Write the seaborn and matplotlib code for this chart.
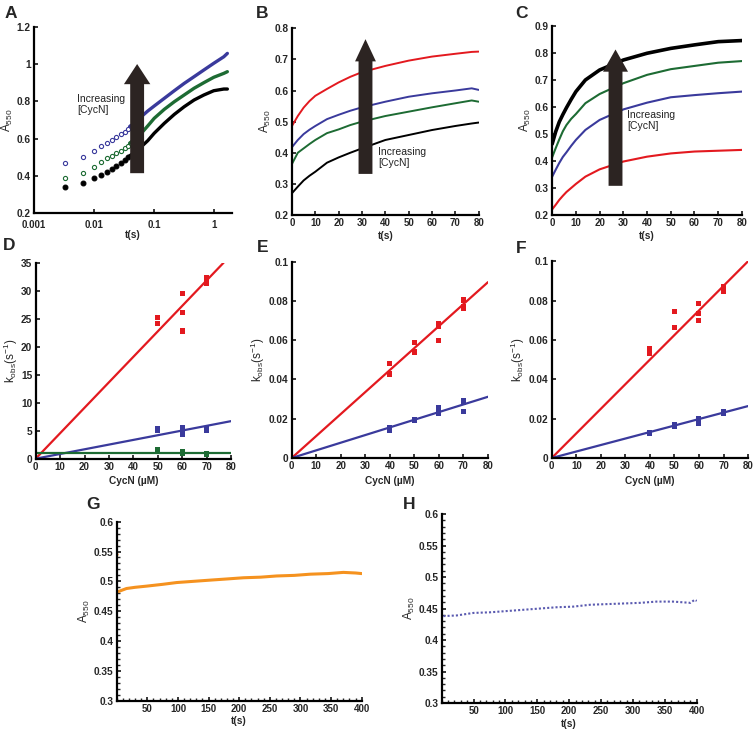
import numpy as np
import pandas as pd
import seaborn as sns
import matplotlib
matplotlib.use("Agg")
import matplotlib.pyplot as plt
from matplotlib.ticker import MultipleLocator

# ---------------- data ----------------
# panel A (log time axis): early sparse points, then dense curve
tA_dots = [0.0033, 0.0066, 0.010, 0.0132, 0.0166, 0.0198, 0.0234, 0.0276, 0.0321, 0.0365, 0.041]
A_black_dots = [0.343, 0.364, 0.389, 0.407, 0.423, 0.439, 0.455, 0.471, 0.486, 0.500]
A_green_dots = [0.388, 0.414, 0.450, 0.477, 0.495, 0.507, 0.521, 0.534, 0.548, 0.562, 0.579]
A_blue_dots = [0.471, 0.504, 0.534, 0.561, 0.579, 0.593, 0.609, 0.623, 0.638, 0.654, 0.668]
tA_line = [0.039, 0.047, 0.061, 0.078, 0.1, 0.147, 0.216, 0.315, 0.46, 0.67, 0.98, 1.44, 1.65]
A_black = [0.508, 0.525, 0.557, 0.589, 0.629, 0.682, 0.730, 0.771, 0.807, 0.834, 0.857, 0.866, 0.866]
A_green = [0.576, 0.596, 0.629, 0.668, 0.709, 0.757, 0.798, 0.834, 0.870, 0.900, 0.929, 0.950, 0.959]
A_blue = [0.665, 0.682, 0.718, 0.748, 0.775, 0.816, 0.857, 0.896, 0.932, 0.968, 1.004, 1.039, 1.057]

# panel B
tB = [0, 2.5, 5, 7.5, 10, 15, 20, 25, 30, 40, 50, 60, 70, 77, 80]
B_red = [0.486, 0.518, 0.545, 0.566, 0.583, 0.605, 0.626, 0.644, 0.659, 0.679, 0.696, 0.709, 0.718, 0.724, 0.725]
B_blue = [0.418, 0.441, 0.460, 0.474, 0.486, 0.508, 0.522, 0.535, 0.546, 0.564, 0.580, 0.591, 0.600, 0.607, 0.602]
B_green = [0.364, 0.400, 0.414, 0.428, 0.441, 0.463, 0.475, 0.489, 0.500, 0.518, 0.532, 0.546, 0.559, 0.568, 0.564]
B_black = [0.270, 0.291, 0.311, 0.326, 0.339, 0.368, 0.385, 0.400, 0.414, 0.441, 0.457, 0.473, 0.486, 0.494, 0.497]

# panel C
tC = [0, 1.5, 3, 4.5, 6, 8, 10, 14, 20, 30, 40, 50, 60, 70, 80]
C_black = [0.463, 0.509, 0.545, 0.572, 0.597, 0.628, 0.657, 0.700, 0.737, 0.774, 0.799, 0.817, 0.830, 0.842, 0.846]
C_green = [0.414, 0.448, 0.480, 0.510, 0.533, 0.556, 0.574, 0.614, 0.648, 0.688, 0.719, 0.740, 0.752, 0.764, 0.770]
C_blue = [0.342, 0.368, 0.393, 0.415, 0.432, 0.456, 0.478, 0.515, 0.552, 0.591, 0.616, 0.636, 0.644, 0.651, 0.657]
C_red = [0.221, 0.238, 0.256, 0.271, 0.285, 0.300, 0.315, 0.342, 0.369, 0.398, 0.416, 0.428, 0.435, 0.438, 0.441]

# panel D  (kobs vs CycN)
D_red_x = [50, 50, 60, 60, 60, 70, 70, 70]
D_red_y = [25.2, 24.2, 29.5, 26.1, 22.8, 32.4, 31.3, 31.8]
D_blue_x = [50, 50, 60, 60, 60, 70, 70]
D_blue_y = [5.3, 5.1, 5.5, 5.0, 4.3, 5.3, 5.0]
D_green_x = [50, 50, 60, 60, 70, 70]
D_green_y = [1.7, 1.3, 1.25, 0.85, 0.95, 0.8]
D_fit_x = {"red": [0, 77], "blue": [0, 80], "green": [0, 80]}
D_fit_y = {"red": [0, 35], "blue": [0, 6.7], "green": [1.1, 1.1]}

# panel E
E_red_x = [40, 40, 50, 50, 50, 60, 60, 60, 70, 70, 70]
E_red_y = [0.0482, 0.0428, 0.0589, 0.0545, 0.0538, 0.0683, 0.0672, 0.0598, 0.0805, 0.0770, 0.0762]
E_blue_x = [40, 40, 50, 50, 60, 60, 60, 70, 70, 70]
E_blue_y = [0.0153, 0.0138, 0.0197, 0.0190, 0.0258, 0.0239, 0.0228, 0.0294, 0.0282, 0.0236]
E_fit_x = [0, 80]
E_fit_red = [0, 0.0896]
E_fit_blue = [0, 0.0312]

# panel F
F_red_x = [40, 40, 40, 50, 50, 60, 60, 60, 70, 70, 70]
F_red_y = [0.0559, 0.0546, 0.0532, 0.0747, 0.0664, 0.0783, 0.0736, 0.0698, 0.0871, 0.0858, 0.0845]
F_blue_x = [40, 40, 50, 50, 60, 60, 60, 70, 70]
F_blue_y = [0.0132, 0.0125, 0.0169, 0.0160, 0.0200, 0.0188, 0.0177, 0.0237, 0.0228]
F_fit_x = [0, 80]
F_fit_red = [0, 0.100]
F_fit_blue = [0, 0.0264]

# panels G and H
tG = [3, 16, 30, 49, 75, 98, 125, 152, 180, 207, 235, 261, 290, 316, 345, 370, 390, 400]
G_y = [0.483, 0.488, 0.490, 0.492, 0.495, 0.498, 0.500, 0.502, 0.504, 0.506, 0.507, 0.509, 0.510, 0.512, 0.513, 0.515, 0.514, 0.513]
G_first = (0.5, 0.545)
tH = [2.6, 23.5, 49.7, 75.8, 102, 128, 154, 180, 206, 233, 259, 285, 311, 337, 363, 390, 397, 400]
H_y = [0.438, 0.439, 0.443, 0.444, 0.446, 0.448, 0.450, 0.452, 0.453, 0.456, 0.457, 0.458, 0.459, 0.461, 0.461, 0.459, 0.464, 0.462]

RED = "#e3191f"
BLUE = "#3a3a9c"
GREEN = "#1d6b33"
BLACK = "#000000"
ORANGE = "#f5921f"
HBLUE = "#5a5ab0"
ARROW = "#2c2422"

# ---------------- style ----------------
sns.set_style("ticks")
plt.rcParams["font.family"] = ["Liberation Sans", "DejaVu Sans"]
plt.rcParams["mathtext.fontset"] = "custom"
plt.rcParams["mathtext.rm"] = "Liberation Sans"
plt.rcParams["mathtext.bf"] = "Liberation Sans:bold"
plt.rcParams["mathtext.default"] = "regular"

fig = plt.figure(figsize=(7.56, 7.36), dpi=100)

rects = {
    "A": [0.045, 0.7102, 0.2615, 0.2535],
    "B": [0.3862, 0.7079, 0.247, 0.2537],
    "C": [0.7304, 0.7079, 0.251, 0.2568],
    "D": [0.0472, 0.3768, 0.2583, 0.2663],
    "E": [0.3858, 0.3777, 0.2597, 0.2667],
    "F": [0.7298, 0.3777, 0.2597, 0.2673],
    "G": [0.1544, 0.048, 0.3241, 0.2432],
    "H": [0.5843, 0.0448, 0.3373, 0.2568],
}
axs = {k: fig.add_axes(r) for k, r in rects.items()}

XT_FS = 7.0
YT_FS = 7.3
LAB_FS = 7.3


def style_axes(ax):
    sns.despine(ax=ax)
    for s in ["left", "bottom"]:
        ax.spines[s].set_linewidth(1.6)
        ax.spines[s].set_color("black")
    ax.tick_params(direction="in", length=3, width=1.3, pad=2.5)
    ax.tick_params(axis="x", labelsize=XT_FS)
    ax.tick_params(axis="y", labelsize=YT_FS)
    for lab in ax.get_xticklabels() + ax.get_yticklabels():
        lab.set_fontweight("bold")


def set_ticks(ax, xt, xl, yt, yl):
    ax.set_xticks(xt)
    ax.set_xticklabels(xl)
    ax.set_yticks(yt)
    ax.set_yticklabels(yl)


def arrow(ax, x, y0, y1, hw, hl):
    ax.annotate("", xy=(x, y1), xytext=(x, y0), zorder=10,
                arrowprops=dict(arrowstyle=f"simple,head_length={hl},head_width={hw},tail_width=1.0",
                                fc=ARROW, ec="none", mutation_scale=10, shrinkA=0, shrinkB=0))


def inc_text(ax, x, y):
    ax.text(x, y, "Increasing\n[CycN]", fontsize=7.5, ha="left", va="top",
            linespacing=1.2, zorder=11, color="#222222")


# ---- A ----
ax = axs["A"]
ax.set_xscale("log")
for dots, line, c, filled in [(A_black_dots, A_black, BLACK, True),
                              (A_green_dots, A_green, GREEN, False),
                              (A_blue_dots, A_blue, BLUE, False)]:
    sns.lineplot(x=tA_line, y=line, color=c, lw=2.4, ax=ax)
    sns.scatterplot(x=tA_dots[:len(dots)], y=dots, ax=ax, s=12 if filled else 9, marker="o",
                    facecolor=c if filled else "white", edgecolor=c, linewidth=0.8)
ax.set_xlim(0.00105, 1.95)
ax.set_ylim(0.2, 1.2)
set_ticks(ax, [0.001, 0.01, 0.1, 1], ["0.001", "0.01", "0.1", "1"],
          [0.2, 0.4, 0.6, 0.8, 1.0, 1.2], ["0.2", "0.4", "0.6", "0.8", "1", "1.2"])
ax.minorticks_off()
arrow(ax, 0.052, 0.415, 1.0, 1.9, 1.45)
inc_text(ax, 0.0052, 0.84)

# ---- B ----
ax = axs["B"]
for y, c in [(B_red, RED), (B_blue, BLUE), (B_green, GREEN), (B_black, BLACK)]:
    sns.lineplot(x=tB, y=y, color=c, lw=1.4, ax=ax)
ax.set_xlim(0, 80)
ax.set_ylim(0.2, 0.8)
set_ticks(ax, list(range(0, 81, 10)), [str(v) for v in range(0, 81, 10)],
          [0.2, 0.3, 0.4, 0.5, 0.6, 0.7, 0.8], ["0.2", "0.3", "0.4", "0.5", "0.6", "0.7", "0.8"])
arrow(ax, 31.5, 0.332, 0.765, 1.5, 1.6)
inc_text(ax, 37, 0.42)

# ---- C ----
ax = axs["C"]
for y, c, w in [(C_black, BLACK, 2.6), (C_green, GREEN, 1.5), (C_blue, BLUE, 1.5), (C_red, RED, 1.5)]:
    sns.lineplot(x=tC, y=y, color=c, lw=w, ax=ax)
ax.set_xlim(0, 80)
ax.set_ylim(0.2, 0.9)
set_ticks(ax, list(range(0, 81, 10)), [str(v) for v in range(0, 81, 10)],
          [0.2, 0.3, 0.4, 0.5, 0.6, 0.7, 0.8, 0.9],
          ["0.2", "0.3", "0.4", "0.5", "0.6", "0.7", "0.8", "0.9"])
arrow(ax, 26.7, 0.308, 0.813, 1.8, 1.6)
inc_text(ax, 31.7, 0.59)

# ---- D ----
ax = axs["D"]
for c, xs, ys in [(RED, D_red_x, D_red_y), (BLUE, D_blue_x, D_blue_y), (GREEN, D_green_x, D_green_y)]:
    key = {RED: "red", BLUE: "blue", GREEN: "green"}[c]
    sns.lineplot(x=D_fit_x[key], y=D_fit_y[key], color=c, lw=1.6, ax=ax)
    sns.scatterplot(x=xs, y=ys, color=c, marker="s", s=13, edgecolor="none", ax=ax, zorder=5)
ax.set_xlim(0, 80)
ax.set_ylim(0, 35)
set_ticks(ax, list(range(0, 81, 10)), [str(v) for v in range(0, 81, 10)],
          list(range(0, 36, 5)), [str(v) for v in range(0, 36, 5)])

# ---- E ----
ax = axs["E"]
sns.lineplot(x=E_fit_x, y=E_fit_red, color=RED, lw=1.6, ax=ax)
sns.lineplot(x=E_fit_x, y=E_fit_blue, color=BLUE, lw=1.6, ax=ax)
sns.scatterplot(x=E_red_x, y=E_red_y, color=RED, marker="s", s=13, edgecolor="none", ax=ax, zorder=5)
sns.scatterplot(x=E_blue_x, y=E_blue_y, color=BLUE, marker="s", s=13, edgecolor="none", ax=ax, zorder=5)

# ---- F ----
ax = axs["F"]
sns.lineplot(x=F_fit_x, y=F_fit_red, color=RED, lw=1.6, ax=ax)
sns.lineplot(x=F_fit_x, y=F_fit_blue, color=BLUE, lw=1.6, ax=ax)
sns.scatterplot(x=F_red_x, y=F_red_y, color=RED, marker="s", s=13, edgecolor="none", ax=ax, zorder=5)
sns.scatterplot(x=F_blue_x, y=F_blue_y, color=BLUE, marker="s", s=13, edgecolor="none", ax=ax, zorder=5)

for k in ["E", "F"]:
    ax = axs[k]
    ax.set_xlim(0, 80)
    ax.set_ylim(0, 0.1)
    set_ticks(ax, list(range(0, 81, 10)), [str(v) for v in range(0, 81, 10)],
              [0, 0.02, 0.04, 0.06, 0.08, 0.1], ["0", "0.02", "0.04", "0.06", "0.08", "0.1"])

# ---- G / H ----
ax = axs["G"]
sns.lineplot(x=tG, y=G_y, color=ORANGE, lw=2.2, ax=ax)
sns.scatterplot(x=[G_first[0]], y=[G_first[1]], color=ORANGE, s=5, edgecolor="none", ax=ax)
ax = axs["H"]
sns.lineplot(x=tH, y=H_y, color=HBLUE, lw=1.5, ls=(0, (1, 1)), ax=ax)

g_yt = [0.3, 0.35, 0.4, 0.45, 0.5, 0.55, 0.6]
g_yl = ["0.3", "0.35", "0.4", "0.45", "0.5", "0.55", "0.6"]
for k in ["G", "H"]:
    ax = axs[k]
    ax.set_xlim(0, 400)
    ax.set_ylim(0.3, 0.6)
    set_ticks(ax, list(range(50, 401, 50)), [str(v) for v in range(50, 401, 50)], g_yt, g_yl)
    ax.xaxis.set_minor_locator(MultipleLocator(10))
    ax.yaxis.set_minor_locator(MultipleLocator(0.01))
    ax.tick_params(which="minor", direction="in", length=2, width=1.0)

# ---- common styling / labels ----
for k, ax in axs.items():
    style_axes(ax)
    if k in "ABCGH":
        ax.set_xlabel("t(s)", fontsize=LAB_FS, fontweight="bold", labelpad=1.5)
        ax.set_ylabel("A$_{550}$", fontsize=8.5, labelpad=1)
    else:
        ax.set_xlabel("CycN (µM)", fontsize=LAB_FS, fontweight="bold", labelpad=3)
        ax.set_ylabel("k$_{obs}$(s$^{-1}$)", fontsize=8.5, labelpad=1)

# keep the corner labels of panel A apart
axs["A"].tick_params(axis="x", pad=4.5)
axs["A"].xaxis.labelpad = 0

letters = {"A": (5, 6), "B": (256, 6), "C": (515, 6), "D": (3, 238), "E": (257, 240),
           "F": (516, 241), "G": (86, 497), "H": (403, 497)}
for k, (px, py) in letters.items():
    fig.text(px / 756, 1 - py / 736, k, fontsize=12.5, fontweight="bold", ha="left", va="top")

fig.savefig("out.png", dpi=100)
